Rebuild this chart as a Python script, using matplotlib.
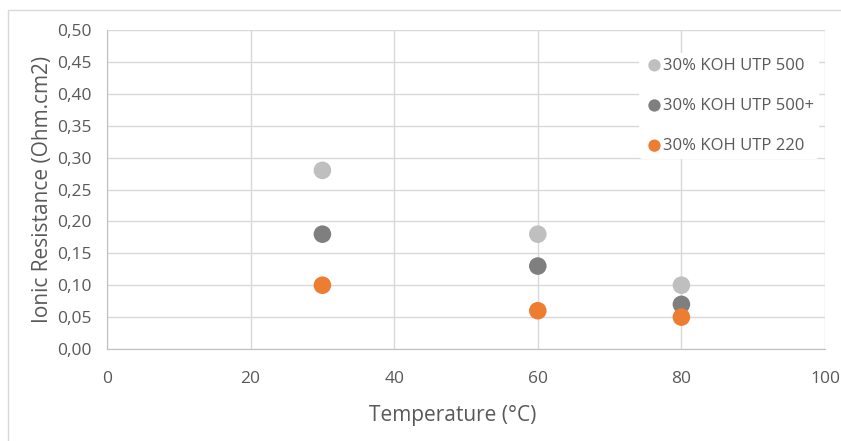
import matplotlib
matplotlib.use("Agg")
import matplotlib.pyplot as plt
from matplotlib.ticker import FuncFormatter, MultipleLocator
from matplotlib.patches import Rectangle

plt.rcParams['font.family'] = ['Open Sans', 'DejaVu Sans']

# datos
temperaturas = [30, 60, 80]
utp500 = [0.28, 0.18, 0.10]
utp500plus = [0.18, 0.13, 0.07]
utp220 = [0.10, 0.06, 0.05]
nombres = ['30% KOH UTP 500', '30% KOH UTP 500+', '30% KOH UTP 220']
colores = ['#BFBFBF', '#7F7F7F', '#ED7D31']

texto = '#595959'
rejilla = '#D9D9D9'

fig = plt.figure(figsize=(8.41, 4.41), dpi=100)
ax = fig.add_axes([107/841, 1 - 349/441, (825 - 107)/841, (349 - 30)/441])

for serie, nombre, color in zip([utp500, utp500plus, utp220], nombres, colores):
    ax.scatter(temperaturas, serie, s=160, color=color, label=nombre,
               edgecolors='none', zorder=3)

ax.set_xlim(0, 100)
ax.set_ylim(0, 0.5)
ax.xaxis.set_major_locator(MultipleLocator(20))
ax.yaxis.set_major_locator(MultipleLocator(0.05))
ax.yaxis.set_major_formatter(FuncFormatter(lambda v, p: f"{v:.2f}".replace('.', ',')))

ax.grid(True, color=rejilla, linewidth=1, zorder=0)
ax.set_axisbelow(True)
for lado in ['top', 'right']:
    ax.spines[lado].set_visible(False)
for lado in ['left', 'bottom']:
    ax.spines[lado].set_color('#BFBFBF')
ax.tick_params(length=0, labelsize=12.5, colors=texto)
ax.tick_params(axis='y', pad=11)
ax.tick_params(axis='x', pad=16)

ax.set_xlabel('Temperature (°C)', fontsize=15, color=texto)
ax.xaxis.set_label_coords((453 - 107)/718, (349 - 405)/319)
ax.set_ylabel('Ionic Resistance (Ohm.cm2)', fontsize=15, color=texto)
ax.yaxis.set_label_coords((53 - 107)/718, 0.5)

ley = ax.legend(loc='upper left', bbox_to_anchor=(0.73, 0.955), frameon=True,
                fontsize=12, labelcolor=texto, handletextpad=-0.1,
                labelspacing=1.45, markerscale=0.7, borderpad=0.3,
                handlelength=1.2)
ley.get_frame().set_facecolor('white')
ley.get_frame().set_edgecolor('none')
ley.get_frame().set_alpha(1)

# marco exterior del grafico
fig.patches.append(Rectangle((8/841, -0.1), 2, 1 - 10/441 + 0.1,
                             transform=fig.transFigure, fill=False,
                             edgecolor='#D9D9D9', linewidth=1))

fig.savefig('out.png', dpi=100)
